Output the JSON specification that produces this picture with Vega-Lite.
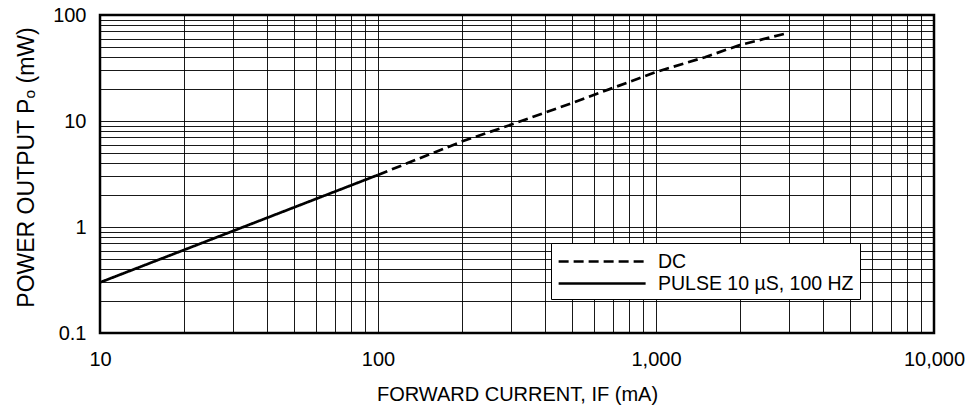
{
  "$schema": "https://vega.github.io/schema/vega-lite/v6.json",
  "width": 834,
  "height": 318,
  "autosize": {"type": "none"},
  "padding": {"left": 100, "top": 15, "right": 37, "bottom": 76},
  "background": "white",
  "config": {
    "font": "Liberation Sans, Arial, DejaVu Sans",
    "view": {"stroke": "black", "strokeWidth": 2.5},
    "axis": {
      "domain": false,
      "ticks": false,
      "grid": true,
      "gridColor": "black",
      "gridWidth": 1,
      "gridOpacity": 0.9,
      "labelFont": "Liberation Sans, Arial, DejaVu Sans",
      "labelFontSize": 20,
      "labelColor": "black",
      "labelOverlap": false,
      "labelFlush": false,
      "labelBound": false,
      "titleFont": "Liberation Sans, Arial, DejaVu Sans",
      "titleFontWeight": "normal",
      "titleColor": "black"
    }
  },
  "data": {
    "values": [
      {"current": 10, "power": 0.3, "series": "PULSE 10 µS, 100 HZ"},
      {"current": 100, "power": 3.1, "series": "PULSE 10 µS, 100 HZ"},
      {"current": 100, "power": 3.1, "series": "DC"},
      {"current": 200, "power": 6.4, "series": "DC"},
      {"current": 300, "power": 9.2, "series": "DC"},
      {"current": 500, "power": 14.8, "series": "DC"},
      {"current": 1000, "power": 29, "series": "DC"},
      {"current": 1500, "power": 40, "series": "DC"},
      {"current": 2000, "power": 52, "series": "DC"},
      {"current": 3000, "power": 68, "series": "DC"}
    ]
  },
  "mark": {"type": "line", "color": "black", "strokeWidth": 2.7, "clip": true},
  "encoding": {
    "x": {
      "field": "current",
      "type": "quantitative",
      "scale": {"type": "log", "domain": [10, 10000]},
      "axis": {
        "values": [10, 20, 30, 40, 50, 60, 70, 80, 90, 100, 200, 300, 400, 500, 600, 700, 800, 900, 1000, 2000, 3000, 4000, 5000, 6000, 7000, 8000, 9000, 10000],
        "format": ",",
        "labelExpr": "datum.value == 10 || datum.value == 100 || datum.value == 1000 || datum.value == 10000 ? datum.label : ''",
        "labelPadding": 16,
        "title": "FORWARD CURRENT, IF (mA)",
        "titleFontSize": 20,
        "titleBaseline": "alphabetic",
        "titleY": 67
      }
    },
    "y": {
      "field": "power",
      "type": "quantitative",
      "scale": {"type": "log", "domain": [0.1, 100]},
      "axis": {
        "values": [0.1, 0.2, 0.3, 0.4, 0.5, 0.6, 0.7, 0.8, 0.9, 1, 2, 3, 4, 5, 6, 7, 8, 9, 10, 20, 30, 40, 50, 60, 70, 80, 90, 100],
        "format": ",",
        "labelExpr": "datum.value == 0.1 || datum.value == 1 || datum.value == 10 || datum.value == 100 ? datum.label : ''",
        "labelPadding": 14,
        "title": "POWER OUTPUT Pₒ (mW)",
        "titleFontSize": 23,
        "titleBaseline": "alphabetic",
        "titleX": -67,
        "titleY": 152
      }
    },
    "strokeDash": {
      "field": "series",
      "type": "nominal",
      "scale": {"domain": ["DC", "PULSE 10 µS, 100 HZ"], "range": [[10, 5], [1, 0]]},
      "legend": {
        "title": null,
        "orient": "none",
        "legendX": 451,
        "legendY": 228,
        "fillColor": "white",
        "strokeColor": "black",
        "padding": 6,
        "symbolType": "M-1,0H7",
        "symbolSize": 473,
        "symbolStrokeWidth": 2.7,
        "symbolStrokeColor": "black",
        "labelFont": "Liberation Sans, Arial, DejaVu Sans",
        "labelFontSize": 19.5,
        "labelColor": "black",
        "labelLimit": 400,
        "labelOffset": 76,
        "rowPadding": -1
      }
    }
  }
}
